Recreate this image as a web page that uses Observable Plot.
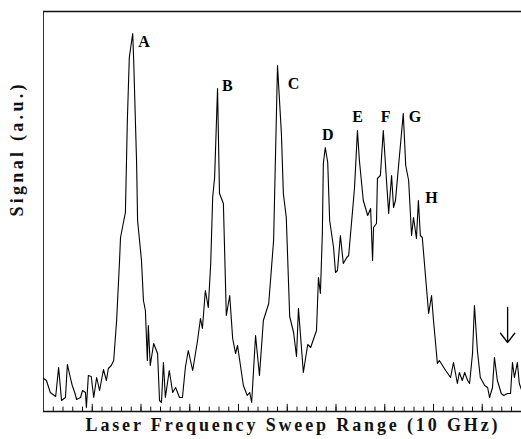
<!DOCTYPE html>
<html>
<head>
<meta charset="utf-8">
<script src="https://cdn.jsdelivr.net/npm/d3@7"></script>
<script src="https://cdn.jsdelivr.net/npm/@observablehq/plot@0.6"></script>
<style>
  html, body { margin: 0; padding: 0; background: #fff; }
  #chart svg { display: block; }
</style>
</head>
<body>
<div id="chart"></div>
<script>
// Laser frequency sweep position (GHz) and signal (a.u.)
const sweep = [0.00,0.06,0.14,0.25,0.31,0.37,0.45,0.49,0.55,0.59,0.64,0.68,0.76,0.80,0.86,0.88,0.92,0.98,1.03,1.09,
  1.15,1.23,1.29,1.33,1.39,1.44,1.50,1.56,1.58,1.68,1.72,1.76,1.83,1.85,1.91,1.93,2.01,2.05,2.09,2.13,
  2.15,2.19,2.26,2.34,2.38,2.42,2.46,2.50,2.58,2.65,2.71,2.79,2.85,2.91,2.97,3.06,3.16,3.22,3.26,3.32,
  3.38,3.43,3.47,3.51,3.57,3.61,3.69,3.75,3.82,3.88,3.94,3.98,4.10,4.18,4.23,4.27,4.35,4.43,4.51,4.62,
  4.72,4.80,4.88,4.92,4.98,5.05,5.13,5.19,5.23,5.33,5.42,5.48,5.60,5.64,5.68,5.72,5.74,5.78,5.83,5.87,
  5.95,5.99,6.03,6.09,6.15,6.22,6.26,6.34,6.38,6.44,6.48,6.56,6.65,6.71,6.75,6.77,6.83,6.85,6.91,6.97,
  7.04,7.08,7.14,7.18,7.22,7.28,7.38,7.43,7.49,7.55,7.59,7.65,7.69,7.73,7.77,7.84,7.90,7.96,8.00,8.08,
  8.12,8.25,8.35,8.41,8.49,8.53,8.59,8.64,8.70,8.74,8.80,8.84,8.90,8.96,9.05,9.11,9.15,9.21,9.25,9.31,
  9.39,9.44,9.52,9.58,9.62,9.66,9.72,9.76,9.81];
const signal = [8.25,7.75,4.75,3.75,11.0,2.75,3.5,11.75,8.5,6.5,4.75,3.0,3.5,5.25,4.75,1.0,9.0,8.75,3.5,8.5,
  5.25,10.5,7.75,10.75,11.5,12.75,22.75,37.75,43.5,49.75,72.75,88.5,94.5,87.75,62.0,47.75,37.75,27.75,25.25,12.75,
  21.5,11.5,17.0,14.5,2.75,2.25,12.25,3.5,10.25,4.75,6.0,3.5,3.5,11.0,15.25,10.25,17.75,23.25,20.75,30.25,
  26.0,37.0,53.5,58.5,80.75,54.5,52.0,24.0,29.0,18.25,14.5,16.5,6.5,4.0,4.75,2.25,19.0,9.0,22.75,27.0,
  42.75,86.5,69.5,54.5,48.5,23.75,19.75,13.75,25.75,9.75,16.75,16.0,20.25,33.5,29.5,44.5,62.0,66.0,62.25,47.75,
  41.0,34.75,35.25,44.0,37.0,38.5,39.0,50.25,56.0,70.25,62.75,52.75,49.0,50.75,37.75,46.0,47.0,58.25,59.0,70.25,
  57.0,49.5,59.0,51.0,52.75,61.0,74.5,61.5,57.75,44.0,48.5,43.25,52.75,44.0,43.5,33.25,24.5,29.0,22.75,12.0,
  12.75,10.25,8.5,12.25,7.0,9.75,7.75,9.75,7.75,7.0,14.5,26.5,15.25,8.5,6.5,6.0,3.5,6.0,13.5,7.75,
  4.5,4.0,4.5,4.5,12.25,8.5,12.25,7.0,5.25];

// Peak labels
const peakNames = ["A","B","C","D","E","F","G","H"];
const peakX = [2.06,3.77,5.13,5.83,6.44,7.02,7.62,7.96];
const peakY = [92.4,81.4,81.9,69.1,73.6,73.6,73.6,53.4];

// Arrow marker
const arrowX = [9.52];
const arrowTop = [26.0];
const arrowBottom = [17.25];

const xLabel = "Laser Frequency Sweep Range (10 GHz)";
const yLabel = "Signal (a.u.)";

const xMax = 9.805;
const minorTicks = d3.range(0, 49).map(i => i * 0.2).filter(v => v > 0.01);
const majorTicks = [1, 2, 3, 4, 5, 6, 7, 8, 9];

const trace = sweep.map((x, i) => ({x, y: signal[i]}));
const peaks = peakNames.map((n, i) => ({n, x: peakX[i], y: peakY[i]}));
const arrows = arrowX.map((x, i) => ({x, y1: arrowTop[i], y2: arrowBottom[i]}));

const serif = "'Liberation Serif', 'DejaVu Serif', serif";

const chart = Plot.plot({
  width: 521,
  height: 439,
  marginLeft: 43,
  marginRight: 0,
  marginTop: 11,
  marginBottom: 28,
  style: {background: "#fff", fontFamily: serif, overflow: "visible"},
  x: {domain: [0, xMax], axis: null},
  y: {domain: [0, 100], axis: null},
  marks: [
    Plot.ruleX([0], {stroke: "#333", strokeWidth: 1}),
    Plot.ruleY([100], {stroke: "#111", strokeWidth: 1.4}),
    Plot.ruleY([0], {stroke: "#111", strokeWidth: 1.4}),
    Plot.ruleX(minorTicks, {x: d => d, y1: 0, y2: 1.1, stroke: "#111", strokeWidth: 1}),
    Plot.ruleX(majorTicks, {x: d => d, y1: 0, y2: 1.8, stroke: "#111", strokeWidth: 1}),
    Plot.line(trace, {x: "x", y: "y", stroke: "#000", strokeWidth: 1.1}),
    Plot.text(peaks, {x: "x", y: "y", text: "n", fontSize: 16, fontWeight: "bold", fill: "#000", fontFamily: serif}),
    Plot.arrow(arrows, {x1: "x", y1: "y1", x2: "x", y2: "y2", stroke: "#000", strokeWidth: 1.3, headLength: 15, headAngle: 75}),
    Plot.text([xLabel], {frameAnchor: "bottom", dx: 9, dy: 19, fontSize: 18, fontWeight: "bold", fill: "#111", fontFamily: serif, className: "xlab"}),
    Plot.text([yLabel], {frameAnchor: "left", dx: -26, dy: 5, rotate: -90, fontSize: 18, fontWeight: "bold", fill: "#111", fontFamily: serif, className: "ylab"})
  ]
});

document.getElementById("chart").appendChild(chart);

chart.querySelectorAll(".xlab text").forEach(t => {
  t.setAttribute("textLength", "412");
  t.setAttribute("lengthAdjust", "spacing");
});
chart.querySelectorAll(".ylab text").forEach(t => {
  t.setAttribute("textLength", "132");
  t.setAttribute("lengthAdjust", "spacing");
});
</script>
</body>
</html>
